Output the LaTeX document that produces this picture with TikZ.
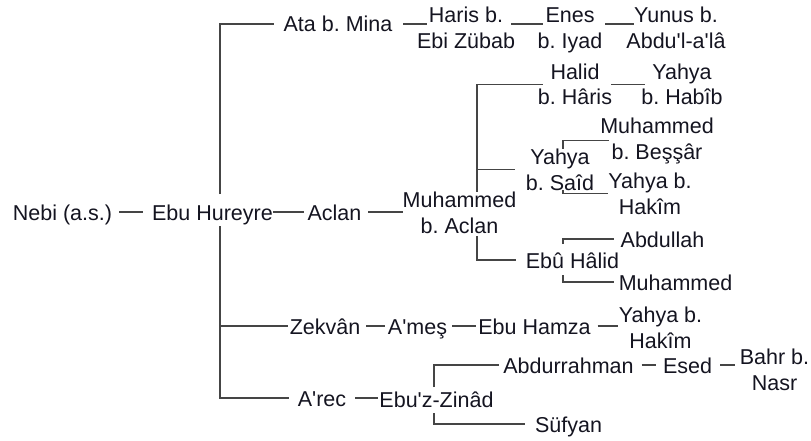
\documentclass[tikz,border=0pt]{standalone}
\usepackage{fontspec}
\setmainfont{Liberation Sans}
\frenchspacing
\definecolor{wirecol}{HTML}{454545}
\definecolor{inkcol}{HTML}{141420}
\tikzset{
  person/.style={anchor=base, inner sep=0pt, outer sep=0pt, text=inkcol,
    font=\fontsize{21.5}{25.5}\selectfont, text height=16pt, text depth=0pt},
  person2/.style={anchor=base, inner sep=0pt, outer sep=0pt, text=inkcol,
    align=center, font=\fontsize{21.5}{25.5}\selectfont},
  wire/.style={draw=wirecol, line width=1.3pt}
}
\newcommand{\ap}{\textquotesingle}
\begin{document}
\begin{tikzpicture}[x=1pt,y=-1pt]
\useasboundingbox (0,0) rectangle (811,441);
% names (two-line names sit on their last line)
\node[person](nebi) at (62.5,220) {Nebi (a.s.)};
\node[person](hur) at (212.5,220) {Ebu Hureyre};
\node[person](aclan) at (334.5,220) {Aclan};
\node[person2](mab) at (459.5,233) {Muhammed\\b. Aclan};
\node[person](ata) at (338,32) {Ata b. Mina};
\node[person2](haris) at (466,48.5) {Haris b.\\Ebi Zübab};
\node[person2](enes) at (570,48.5) {Enes\\b. Iyad};
\node[person2](yunus) at (676,48.5) {Yunus b.\\Abdu\ap l-a\ap lâ};
\node[person2](halid) at (575,105) {Halid\\b. Hâris};
\node[person2](habib) at (682,105) {Yahya\\b. Habîb};
\node[person2](said) at (560,190) {Yahya\\b. Saîd};
\node[person2](bessar) at (657,159) {Muhammed\\b. Beşşâr};
\node[person2](hakim) at (650,214) {Yahya b.\\Hakîm};
\node[person](ebuhalid) at (572.5,268) {Ebû Hâlid};
\node[person](abdullah) at (662.5,247) {Abdullah};
\node[person](muhammed) at (675.5,290) {Muhammed};
\node[person](zekvan) at (325,334) {Zekvân};
\node[person](ames) at (417.5,334) {A\ap meş};
\node[person](hamza) at (534.5,334) {Ebu Hamza};
\node[person2](hakimb) at (660.5,348) {Yahya b.\\Hakîm};
\node[person](arec) at (322,406) {A\ap rec};
\node[person](zinad) at (436.5,407) {Ebu\ap z-Zinâd};
\node[person](abdur) at (568.5,373) {Abdurrahman};
\node[person](sufyan) at (568.5,432) {Süfyan};
\node[person](esed) at (687.5,373) {Esed};
\node[person2](bahr) at (774.5,390) {Bahr b.\\Nasr};
% bracket columns
\coordinate (trunk) at (220,0);
\coordinate (mtr) at (477,0);
\coordinate (str) at (563,0);
\coordinate (ztr) at (434,0);
% main line
\draw[wire,shorten <=7pt,shorten >=9pt] (nebi.east) -- (hur.west);
\draw[wire,shorten >=4pt] (hur.east) -- (aclan.west);
\draw[wire,shorten <=7pt] (aclan.east) -- (aclan.east -| mab.west);
% Ebu Hureyre
\draw[wire,shorten <=10pt,shorten >=10pt] (hur.north -| trunk) -- (trunk |- ata.west) -- (ata.west);
\draw[wire,shorten <=6pt,shorten >=9pt] (hur.south -| trunk) -- (trunk |- arec.west) -- (arec.west);
\draw[wire,shorten >=2pt] (trunk |- zekvan.west) -- (zekvan.west);
% Ata b. Mina
\draw[wire,shorten <=11pt,shorten >=-10pt] (ata.east) -- (ata.east -| haris.west);
\draw[wire,shorten <=-4pt,shorten >=-5pt] (haris.east |- ata.east) -- (enes.west |- ata.east);
\draw[wire,shorten <=3pt,shorten >=-8pt] (enes.east |- ata.east) -- (yunus.west |- ata.east);
% Muhammed b. Aclan
\draw[wire,shorten >=-5pt] (mab.north -| mtr) -- (mtr |- halid.west) -- (halid.west);
\draw[wire,shorten >=11pt] (mtr |- said.west) -- (said.west);
\draw[wire,shorten <=3pt,shorten >=10pt] (mab.south -| mtr) -- (mtr |- ebuhalid.west) -- (ebuhalid.west);
\draw[wire,shorten <=-1pt,shorten >=-4pt] (halid.east) -- (halid.east -| habib.west);
% Yahya b. Said
\draw[wire,shorten >=-9pt] (said.north -| str) -- (str |- bessar.west) -- (bessar.west);
\draw[wire] (said.south -| str) -- (str |- hakim.west) -- (hakim.west);
% Ebu Halid
\draw[wire,shorten <=8pt,shorten >=7pt] (ebuhalid.north -| str) -- (str |- abdullah.west) -- (abdullah.west);
\draw[wire,shorten <=7pt,shorten >=5pt] (ebuhalid.south -| str) -- (str |- muhammed.west) -- (muhammed.west);
% Zekvan
\draw[wire,shorten <=6pt,shorten >=3pt] (zekvan.east) -- (ames.west);
\draw[wire,shorten <=5pt,shorten >=2pt] (ames.east) -- (hamza.west);
\draw[wire,shorten <=7pt,shorten >=1pt] (hamza.east) -- (hamza.east -| hakimb.west);
% A'rec
\draw[wire,shorten <=9pt,shorten >=1pt] (arec.east) -- (arec.east -| zinad.west);
\draw[wire,shorten <=4pt,shorten >=4pt] (zinad.north -| ztr) -- (ztr |- abdur.west) -- (abdur.west);
\draw[wire,shorten <=6pt,shorten >=10pt] (zinad.south -| ztr) -- (ztr |- sufyan.west) -- (sufyan.west);
\draw[wire,shorten <=8pt,shorten >=7pt] (abdur.east) -- (esed.west);
\draw[wire,shorten <=8pt,shorten >=5pt] (esed.east) -- (esed.east -| bahr.west);
\end{tikzpicture}
\end{document}
